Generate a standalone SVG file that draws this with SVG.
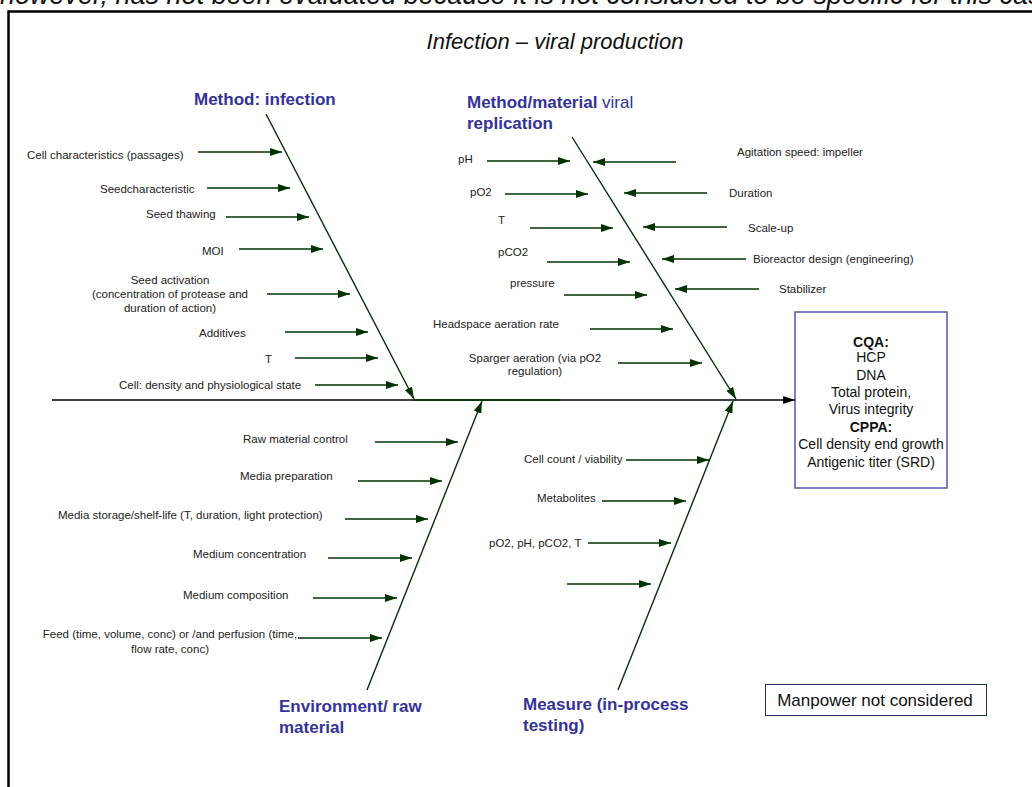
<svg xmlns="http://www.w3.org/2000/svg" width="1032" height="787" viewBox="0 0 1032 787">
  <style>
    .lbl { font-family: "Liberation Sans", Arial, sans-serif; font-size: 11.5px; fill: #222; }
    .cat { font-family: "Liberation Sans", Arial, sans-serif; font-size: 17px; font-weight: bold; fill: #333399; }
    .catn { font-weight: normal; }
    .box { font-family: "Liberation Sans", Arial, sans-serif; font-size: 14px; fill: #111; text-anchor: middle; }
    .arr { stroke: #003300; stroke-width: 1.6; fill: none; marker-end: url(#ah); }
    .bone { stroke: #003300; stroke-width: 1.4; fill: none; marker-end: url(#ah); }
  </style>
  <defs>
    <marker id="ah" viewBox="0 0 12 8" refX="12" refY="4" markerWidth="12" markerHeight="8" markerUnits="userSpaceOnUse" orient="auto">
      <path d="M0,0 L12,4 L0,8 z" fill="#003300"/>
    </marker>
    <marker id="ahk" viewBox="0 0 12 8" refX="12" refY="4" markerWidth="12" markerHeight="8" markerUnits="userSpaceOnUse" orient="auto">
      <path d="M0,0 L12,4 L0,8 z" fill="#000"/>
    </marker>
  </defs>

  <rect width="1032" height="787" fill="#fff"/>

  <!-- caption line running off the top edge, above the frame -->
  <text x="0" y="4" font-family="Liberation Sans, Arial, sans-serif" font-size="27" font-style="italic" fill="#111">however, has not been evaluated because it is not considered to be specific for this case</text>

  <!-- outer frame -->
  <rect x="8.5" y="11.5" width="1100" height="900" fill="none" stroke="#000" stroke-width="2.5"/>

  <g id="title">
    <text x="555" y="49" font-family="Liberation Sans, Arial, sans-serif" font-size="22" font-style="italic" text-anchor="middle" fill="#111">Infection – viral production</text>
  </g>

  <!-- category heads -->
  <g id="cat-method-infection">
    <text class="cat" x="194" y="105">Method: infection</text>
  </g>
  <g id="cat-method-material">
    <text class="cat" x="467" y="108">Method/material <tspan class="catn">viral</tspan></text>
    <text class="cat" x="467" y="129">replication</text>
  </g>
  <g id="cat-environment">
    <text class="cat" x="279" y="712">Environment/ raw</text>
    <text class="cat" x="279" y="733">material</text>
  </g>
  <g id="cat-measure">
    <text class="cat" x="523" y="710">Measure (in-process</text>
    <text class="cat" x="523" y="731">testing)</text>
  </g>

  <!-- outcome box -->
  <g id="outcome">
    <rect x="795" y="312" width="152" height="176" fill="#fff" stroke="#5555aa" stroke-width="1.5"/>
    <text class="box" x="871" y="347" font-weight="bold">CQA:</text>
    <text class="box" x="871" y="362">HCP</text>
    <text class="box" x="871" y="380">DNA</text>
    <text class="box" x="871" y="397">Total protein,</text>
    <text class="box" x="871" y="414">Virus integrity</text>
    <text class="box" x="871" y="432" font-weight="bold">CPPA:</text>
    <text class="box" x="871" y="449">Cell density end growth</text>
    <text class="box" x="871" y="467">Antigenic titer (SRD)</text>
  </g>

  <g id="note-manpower">
    <rect x="765.5" y="684.5" width="221" height="31" fill="#fff" stroke="#1f2f5f" stroke-width="1"/>
    <text x="875" y="706" font-family="Liberation Sans, Arial, sans-serif" font-size="17" text-anchor="middle" fill="#111">Manpower not considered</text>
  </g>

  <!-- causes: method / infection -->
  <g id="c-cell-char"><text class="lbl" x="27" y="159">Cell characteristics (passages)</text></g>
  <g id="c-seedchar"><text class="lbl" x="100" y="193">Seedcharacteristic</text></g>
  <g id="c-seed-thaw"><text class="lbl" x="146" y="218">Seed thawing</text></g>
  <g id="c-moi"><text class="lbl" x="202" y="255">MOI</text></g>
  <g id="c-seed-act">
    <text class="lbl" x="170" y="284" text-anchor="middle">Seed activation</text>
    <text class="lbl" x="170" y="298" text-anchor="middle">(concentration of protease and</text>
    <text class="lbl" x="170" y="312" text-anchor="middle">duration of action)</text>
  </g>
  <g id="c-additives"><text class="lbl" x="199" y="337">Additives</text></g>
  <g id="c-t1"><text class="lbl" x="265" y="363">T</text></g>
  <g id="c-cell-density"><text class="lbl" x="119" y="389">Cell: density and physiological state</text></g>

  <!-- causes: method/material viral replication -->
  <g id="c-ph"><text class="lbl" x="458" y="163">pH</text></g>
  <g id="c-po2"><text class="lbl" x="470" y="196">pO2</text></g>
  <g id="c-t2"><text class="lbl" x="498" y="224">T</text></g>
  <g id="c-pco2"><text class="lbl" x="498" y="256">pCO2</text></g>
  <g id="c-pressure"><text class="lbl" x="510" y="287">pressure</text></g>
  <g id="c-headspace"><text class="lbl" x="433" y="328">Headspace aeration rate</text></g>
  <g id="c-sparger">
    <text class="lbl" x="535" y="362" text-anchor="middle">Sparger aeration (via pO2</text>
    <text class="lbl" x="535" y="375" text-anchor="middle">regulation)</text>
  </g>
  <g id="c-agitation"><text class="lbl" x="737" y="156">Agitation speed: impeller</text></g>
  <g id="c-duration"><text class="lbl" x="729" y="197">Duration</text></g>
  <g id="c-scaleup"><text class="lbl" x="748" y="232">Scale-up</text></g>
  <g id="c-bioreactor"><text class="lbl" x="753" y="263">Bioreactor design (engineering)</text></g>
  <g id="c-stabilizer"><text class="lbl" x="779" y="293">Stabilizer</text></g>

  <!-- causes: environment / raw material -->
  <g id="c-raw"><text class="lbl" x="243" y="443">Raw material control</text></g>
  <g id="c-media-prep"><text class="lbl" x="240" y="480">Media preparation</text></g>
  <g id="c-media-storage"><text class="lbl" x="58" y="519">Media storage/shelf-life (T, duration, light protection)</text></g>
  <g id="c-medium-conc"><text class="lbl" x="193" y="558">Medium concentration</text></g>
  <g id="c-medium-comp"><text class="lbl" x="183" y="599">Medium composition</text></g>
  <g id="c-feed">
    <text class="lbl" x="170" y="638" text-anchor="middle">Feed (time, volume, conc) or /and perfusion (time,</text>
    <text class="lbl" x="170" y="653" text-anchor="middle">flow rate, conc)</text>
  </g>

  <!-- causes: measure -->
  <g id="c-cellcount"><text class="lbl" x="524" y="463">Cell count / viability</text></g>
  <g id="c-metabolites"><text class="lbl" x="537" y="502">Metabolites</text></g>
  <g id="c-gases"><text class="lbl" x="489" y="547">pO2, pH, pCO2, T</text></g>

  <g id="connectors">
    <!-- spine -->
    <line x1="52" y1="400" x2="795" y2="400" stroke="#000" stroke-width="1.5" marker-end="url(#ahk)"/>
    <line x1="413" y1="400" x2="560" y2="400" stroke="#003300" stroke-width="1.5"/>

    <!-- bones -->
    <line class="bone" x1="266" y1="114" x2="414" y2="399"/>
    <line class="bone" x1="572" y1="137" x2="736" y2="399"/>
    <line class="bone" x1="367" y1="690" x2="482" y2="401"/>
    <line class="bone" x1="618" y1="690" x2="733" y2="401"/>

    <!-- method: infection -->
    <line class="arr" x1="198" y1="152" x2="282" y2="152"/>
    <line class="arr" x1="207" y1="188" x2="290" y2="188"/>
    <line class="arr" x1="226" y1="217" x2="309" y2="217"/>
    <line class="arr" x1="239" y1="249" x2="323" y2="249"/>
    <line class="arr" x1="267" y1="294" x2="350" y2="294"/>
    <line class="arr" x1="285" y1="332" x2="368" y2="332"/>
    <line class="arr" x1="295" y1="358" x2="378" y2="358"/>
    <line class="arr" x1="315" y1="385" x2="398" y2="385"/>

    <!-- viral replication, left side -->
    <line class="arr" x1="487" y1="161" x2="570" y2="161"/>
    <line class="arr" x1="505" y1="194" x2="588" y2="194"/>
    <line class="arr" x1="530" y1="228" x2="613" y2="228"/>
    <line class="arr" x1="547" y1="262" x2="630" y2="262"/>
    <line class="arr" x1="564" y1="295" x2="647" y2="295"/>
    <line class="arr" x1="590" y1="329" x2="673" y2="329"/>
    <line class="arr" x1="618" y1="363" x2="702" y2="363"/>

    <!-- viral replication, right side -->
    <line class="arr" x1="676" y1="162" x2="593" y2="162"/>
    <line class="arr" x1="707" y1="193" x2="624" y2="193"/>
    <line class="arr" x1="727" y1="227" x2="643" y2="227"/>
    <line class="arr" x1="746" y1="259" x2="662" y2="259"/>
    <line class="arr" x1="759" y1="289" x2="675" y2="289"/>

    <!-- environment / raw material -->
    <line class="arr" x1="375" y1="442" x2="458" y2="442"/>
    <line class="arr" x1="358" y1="481" x2="442" y2="481"/>
    <line class="arr" x1="345" y1="519" x2="428" y2="519"/>
    <line class="arr" x1="328" y1="558" x2="412" y2="558"/>
    <line class="arr" x1="313" y1="598" x2="397" y2="598"/>
    <line class="arr" x1="298" y1="638" x2="382" y2="638"/>

    <!-- measure -->
    <line class="arr" x1="626" y1="460" x2="709" y2="460"/>
    <line class="arr" x1="602" y1="501" x2="686" y2="501"/>
    <line class="arr" x1="588" y1="543" x2="671" y2="543"/>
    <line class="arr" x1="567" y1="584" x2="651" y2="584"/>
  </g>
</svg>
